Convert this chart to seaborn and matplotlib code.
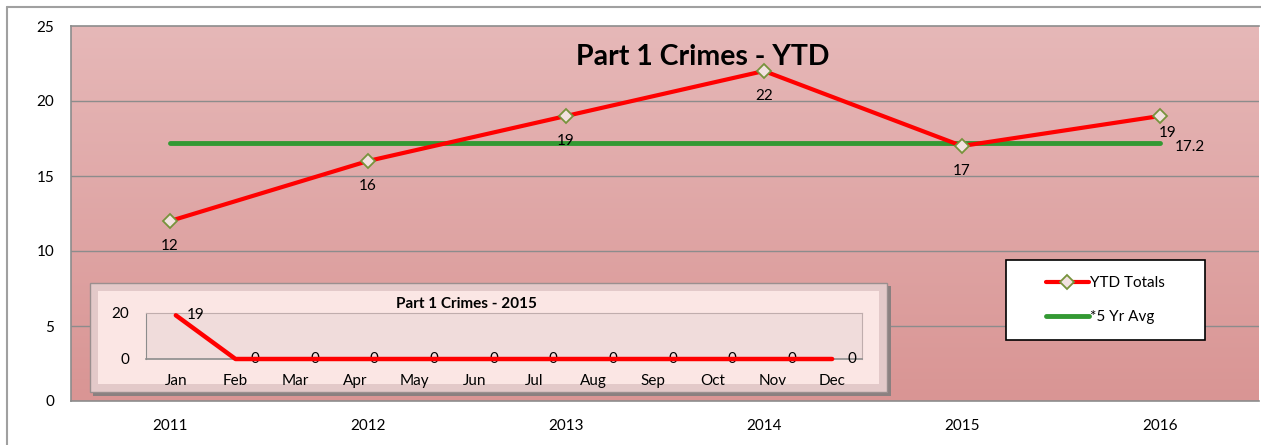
import numpy as np
import pandas as pd
import seaborn as sns
import matplotlib.pyplot as plt
from matplotlib.colors import LinearSegmentedColormap
from matplotlib.patches import Rectangle

years = ['2011', '2012', '2013', '2014', '2015', '2016']
ytd_totals = [12, 16, 19, 22, 17, 19]
five_yr_avg = [17.2, 17.2, 17.2, 17.2, 17.2, 17.2]

months = ['Jan', 'Feb', 'Mar', 'Apr', 'May', 'Jun',
          'Jul', 'Aug', 'Sep', 'Oct', 'Nov', 'Dec']
crimes_2015 = [19, 0, 0, 0, 0, 0, 0, 0, 0, 0, 0, 0]

sns.set_style('white')
plt.rcParams['font.family'] = ['Lato', 'DejaVu Sans']
plt.rcParams['text.color'] = 'black'
plt.rcParams['xtick.color'] = 'black'
plt.rcParams['ytick.color'] = 'black'

W, H = 1261, 445
fig = plt.figure(figsize=(W / 100, H / 100), dpi=100)

def box(x0, y0, x1, y1):
    # pixel box -> figure fraction
    return [x0 / W, 1 - y1 / H, (x1 - x0) / W, (y1 - y0) / H]

# outer chart border (only top and left visible)
fig.add_artist(plt.Line2D([7 / W, 1], [1 - 7 / H, 1 - 7 / H], color='#a0a0a0', lw=1.5))
fig.add_artist(plt.Line2D([7 / W, 7 / W], [0, 1 - 7 / H], color='#a0a0a0', lw=1.5))

df = pd.DataFrame({'year': years, 'pos': range(len(years)),
                   'total': ytd_totals, 'avg': five_yr_avg})

ax = fig.add_axes(box(71, 26, 1259, 401))
ax.set_xlim(-0.5, len(years) - 0.5)
ax.set_ylim(0, 25)

grad = LinearSegmentedColormap.from_list('bg', ['#d99594', '#e6b8b8'])
ax.imshow(np.linspace(0, 1, 256).reshape(-1, 1), cmap=grad, aspect='auto',
          extent=[-0.5, len(years) - 0.5, 0, 25], origin='lower', zorder=0)

for v in [5, 10, 15, 20]:
    ax.axhline(v, color='#8c8c8c', lw=1, zorder=1)

sns.lineplot(data=df, x='pos', y='avg', color='#339933', lw=3.5,
             label='*5 Yr Avg', ax=ax, zorder=3)
sns.lineplot(data=df, x='pos', y='total', color='#ff0000', lw=3,
             marker='D', markersize=7, markerfacecolor='#f2e2e0',
             markeredgecolor='#77933c', markeredgewidth=1.3,
             label='YTD Totals', ax=ax, zorder=4)

for i, v in enumerate(ytd_totals):
    if i == len(ytd_totals) - 1:
        ax.annotate(str(v), (i, v), xytext=(-1, -15), textcoords='offset points',
                    ha='left', fontsize=11)
    else:
        ax.annotate(str(v), (i, v), xytext=(0, -21), textcoords='offset points',
                    ha='center', fontsize=11)
ax.annotate('17.2', (len(years) - 1, five_yr_avg[-1]), xytext=(11, -6),
            textcoords='offset points', ha='left', fontsize=11)

ax.set_xticks(range(len(years)), years)
ax.set_yticks(range(0, 26, 5))
ax.tick_params(axis='both', labelsize=11, length=0, pad=13)
ax.tick_params(axis='y', pad=12)
ax.set_xlabel('')
ax.set_ylabel('')
ax.spines['right'].set_visible(False)
for s in ['left', 'bottom', 'top']:
    ax.spines[s].set_color('#8c8c8c')
    ax.spines[s].set_linewidth(1.2)

ax.text(0.532, 0.918, 'Part 1 Crimes - YTD', transform=ax.transAxes,
        ha='center', va='center', fontsize=20.5, fontweight='bold', zorder=5)

# legend: white box drawn by hand, entries centred inside
lx0, ly0 = (1006 - 71) / 1188, (401 - 340) / 375
lw_, lh_ = 199 / 1188, 80 / 375
ax.add_patch(Rectangle((lx0, ly0), lw_, lh_, transform=ax.transAxes,
                       facecolor='white', edgecolor='black', lw=1.2, zorder=6))
handles, labels = ax.get_legend_handles_labels()
leg = ax.legend(handles[::-1], labels[::-1], loc='center',
                bbox_to_anchor=(lx0 + lw_ / 2, ly0 + lh_ / 2),
                frameon=False, fontsize=11, labelspacing=1.3,
                handlelength=2.8, handletextpad=0.1)
leg.set_zorder(7)

# inset: bevel frame
fig.add_artist(Rectangle((93 / W, 1 - 396 / H), 798 / W, 110 / H,
                         transform=fig.transFigure, facecolor='#8a8080',
                         edgecolor='none', zorder=5))
fig.add_artist(Rectangle((90 / W, 1 - 392 / H), 797 / W, 109 / H,
                         transform=fig.transFigure, facecolor='#e3c9c9',
                         edgecolor='#9a8f8f', lw=1, zorder=6))
fig.add_artist(Rectangle((98 / W, 1 - 384 / H), 781 / W, 93 / H,
                         transform=fig.transFigure, facecolor='#fbe6e4',
                         edgecolor='none', zorder=7))

mdf = pd.DataFrame({'month': months, 'pos': range(len(months)), 'count': crimes_2015})
ins = fig.add_axes(box(146, 313, 862, 359), zorder=10)
ins.set_facecolor('#f0dcdb')
ins.set_xlim(-0.5, len(months) - 0.5)
ins.set_ylim(0, 20)
sns.lineplot(data=mdf, x='pos', y='count', color='#ff0000', lw=3.2, ax=ins,
             clip_on=False, zorder=5)
for i, v in enumerate(crimes_2015):
    ins.annotate(str(v), (i, v), xytext=(14, 0), textcoords='offset points',
                 ha='center', va='center', fontsize=11)
ins.set_xticks(np.arange(-0.5, len(months), 1), minor=False)
ins.set_xticklabels([])
ins.set_xticks(range(len(months)), minor=True)
ins.set_xticklabels(months, minor=True)
ins.tick_params(axis='x', which='major', length=4, color='#8c8c8c', direction='out')
ins.tick_params(axis='x', which='minor', length=0, labelsize=11, pad=11)
ins.set_yticks([0, 20])
ins.tick_params(axis='y', labelsize=11, length=4, color='#8c8c8c', pad=8)
ins.set_xlabel('')
ins.set_ylabel('')
for s in ins.spines.values():
    s.set_color('#c0adad')
    s.set_linewidth(0.8)
ins.spines['left'].set_color('#8c8c8c')
ins.spines['bottom'].set_color('#8c8c8c')
ins.spines['bottom'].set_linewidth(1.2)
ins.text(0.447, 1.2, 'Part 1 Crimes - 2015', transform=ins.transAxes,
         ha='center', va='center', fontsize=11, fontweight='bold')

fig.savefig('out.png', dpi=100)
